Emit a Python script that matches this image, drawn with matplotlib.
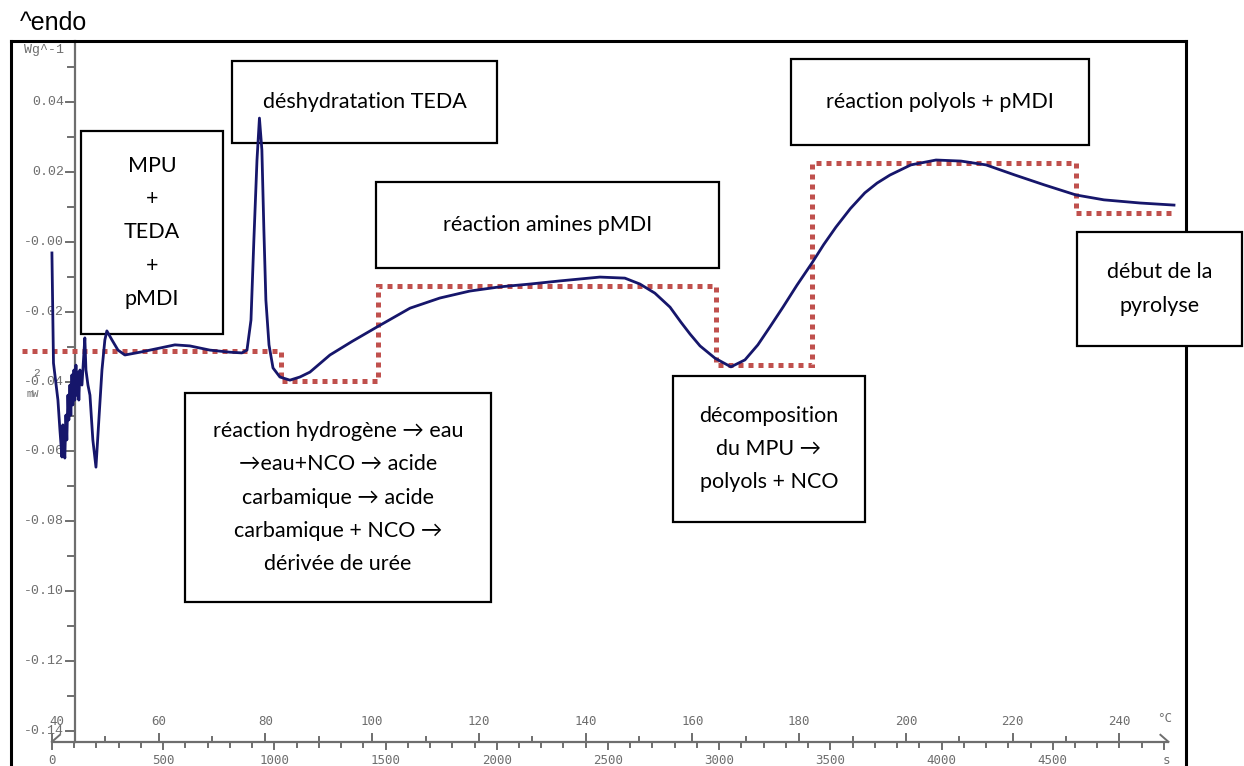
import matplotlib
matplotlib.use("Agg")
import matplotlib.pyplot as plt
from matplotlib.patches import Rectangle
import numpy as np

# ---------------- data ----------------
time_s = [0, 7, 27, 36, 45, 49, 54, 58, 63, 67, 72, 76, 81, 85, 90, 94, 99, 103, 108, 112,
          117, 121, 126, 135, 144, 148, 153, 162, 171, 184, 198, 211, 225, 238, 247, 270,
          297, 328, 396, 486, 553, 620, 710, 800, 854, 877, 895, 908, 922, 933, 944, 953,
          962, 976, 994, 1025, 1070, 1115, 1160, 1250, 1350, 1461, 1610, 1744, 1879, 2014,
          2149, 2284, 2464, 2576, 2644, 2711, 2779, 2828, 2869, 2914, 2981, 3053, 3116,
          3174, 3228, 3287, 3350, 3417, 3470, 3525, 3590, 3655, 3710, 3768, 3862, 3975,
          4087, 4200, 4330, 4461, 4604, 4730, 4892, 5045]
heat_flow = [-0.0032, -0.0347, -0.0453, -0.0539, -0.0616, -0.0524, -0.0582, -0.0619, -0.0496,
             -0.0567, -0.0439, -0.051, -0.041, -0.0496, -0.0381, -0.0467, -0.0367, -0.0453,
             -0.0353, -0.0439, -0.0373, -0.0453, -0.0367, -0.041, -0.0316, -0.0275, -0.0367,
             -0.041, -0.0439, -0.0567, -0.0645, -0.051, -0.0367, -0.0281, -0.0255, -0.0281,
             -0.031, -0.0324, -0.0316, -0.0304, -0.0295, -0.0298, -0.031, -0.0316, -0.0318,
             -0.031, -0.0224, 0.0005, 0.0234, 0.0354, 0.0263, 0.0034, -0.0167, -0.0295,
             -0.0361, -0.0387, -0.0396, -0.0387, -0.0373, -0.0324, -0.0285, -0.0244, -0.019,
             -0.0161, -0.0141, -0.0129, -0.0121, -0.0112, -0.0101, -0.0104, -0.0121, -0.0147,
             -0.0187, -0.0230, -0.0264, -0.0298, -0.0333, -0.0358, -0.0338, -0.0295, -0.0244,
             -0.0187, -0.0124, -0.0061, -0.0008, 0.0042, 0.0095, 0.0140, 0.0168, 0.0191,
             0.0220, 0.0234, 0.0231, 0.0220, 0.0191, 0.0163, 0.0134, 0.0120, 0.0111, 0.0105]

# stage outline (red dotted steps)
step_edges = [-135, 1030, 1466, 2985, 3417, 4604, 5049]
step_levels = [-0.0313, -0.0398, -0.0127, -0.0353, 0.0225, 0.0082]

y_ticks = [0.04, 0.02, 0.0, -0.02, -0.04, -0.06, -0.08, -0.10, -0.12, -0.14]
y_tick_labels = ["0.04", "0.02", "-0.00", "-0.02", "-0.04", "-0.06", "-0.08", "-0.10", "-0.12", "-0.14"]
time_ticks = [0, 500, 1000, 1500, 2000, 2500, 3000, 3500, 4000, 4500]
temp_ticks = [40, 60, 80, 100, 120, 140, 160, 180, 200, 220, 240]
sec_per_degree = 24  # heating 2.5 K/min

boxes = [
    # (x0, y0, x1, y1) in figure pixels (top-left origin), text
    ((81, 131, 223, 334), "MPU\n+\nTEDA\n+\npMDI"),
    ((232, 61, 497, 143), "déshydratation TEDA"),
    ((376, 182, 719, 268), "réaction amines pMDI"),
    ((791, 59, 1089, 145), "réaction polyols + pMDI"),
    ((1077, 232, 1242, 346), "début de la\npyrolyse"),
    ((185, 393, 491, 602), "réaction hydrogène \u2192 eau\n\u2192eau+NCO \u2192 acide\ncarbamique \u2192 acide\ncarbamique + NCO \u2192\ndérivée de urée"),
    ((673, 376, 865, 522), "décomposition\ndu MPU \u2192\npolyols + NCO"),
]

# ---------------- figure ----------------
W, H = 1244, 766
fig = plt.figure(figsize=(W / 100, H / 100), dpi=100)
fig.patch.set_facecolor("white")
ax = fig.add_axes([11 / W, (H - 775) / H, 1175 / W, 734 / H])
ax.set_xlim(-184, 5099)
ax.set_ylim(-0.1526, 0.05746)
ax.set_xticks([])
ax.set_yticks([])
for s in ax.spines.values():
    s.set_color("black")
    s.set_linewidth(2.2)

px_t = 5283 / 1175.0      # seconds per pixel
px_v = 0.21006 / 734.0    # W/g per pixel

gray = "#6e6e6e"
mono = "Liberation Mono"

# inner y axis
t_yax = 103
v_xax = -0.1431
ax.plot([t_yax, t_yax], [v_xax, 0.0575], color=gray, lw=1.6, zorder=2, clip_on=False)
for v in np.arange(-0.14, 0.0551, 0.01):
    major = abs(round(v * 100) % 2) == 0
    L = 9 if major else 7
    ax.plot([t_yax - L * px_t, t_yax], [v, v], color=gray, lw=1.4, zorder=2)
for v, lab in zip(y_ticks, y_tick_labels):
    ax.text(t_yax - 11 * px_t, v, lab, ha="right", va="center", family=mono,
            fontsize=9.5, color=gray)
ax.text(t_yax - 11 * px_t, 0.0549, "Wg^-1", ha="right", va="center", family=mono,
        fontsize=9.5, color=gray)
ax.text(-67, -0.0375, "2", ha="center", va="center", family=mono, fontsize=8, color=gray)
ax.text(-85, -0.0435, "mW", ha="center", va="center", family=mono, fontsize=7.5, color=gray)

# bottom axis
t_end = 5020
ax.plot([0, t_end], [v_xax, v_xax], color=gray, lw=1.6, zorder=2)
ax.plot([0, 8 * px_t], [v_xax, v_xax + 7 * px_v], color=gray, lw=1.4)
ax.plot([t_end - 8 * px_t, t_end], [v_xax + 7 * px_v, v_xax], color=gray, lw=1.4)
for t in range(0, 5001, 100):
    L = 7 if t % 500 == 0 else 5
    ax.plot([t, t], [v_xax, v_xax - L * px_v], color=gray, lw=1.4)
for T in range(40, 241, 10):
    t = (T - 40) * sec_per_degree
    L = 8 if T % 20 == 0 else 5
    ax.plot([t, t], [v_xax, v_xax + L * px_v], color=gray, lw=1.4)
for t in time_ticks:
    ax.text(t, v_xax - 19 * px_v, str(t), ha="center", va="center", family="DejaVu Sans Mono",
            fontsize=9, color=gray)
ax.text(5013, v_xax - 19 * px_v, "s", ha="center", va="center", family="DejaVu Sans Mono",
        fontsize=9, color=gray)
for T in temp_ticks:
    t = (T - 40) * sec_per_degree
    off = 5 * px_t if T == 40 else 0
    ax.text(t + off, v_xax + 20 * px_v, str(T), ha="center", va="center", family="DejaVu Sans Mono",
            fontsize=9, color=gray)
ax.text(5005, v_xax + 23 * px_v, "°C", ha="center", va="center", family="DejaVu Sans Mono",
        fontsize=9, color=gray)

# red dotted stage outline
ax.stairs(step_levels, step_edges, baseline=None, color="#c0504d", lw=3.6,
          linestyle=(0, (1, 1)), zorder=3.5, clip_on=False)

# DSC curve
ax.plot(time_s, heat_flow, color="#16166b", lw=2.0, zorder=5, solid_joinstyle="round")

# annotation boxes
for (x0, y0, x1, y1), txt in boxes:
    rect = Rectangle((x0 / W, 1 - y1 / H), (x1 - x0) / W, (y1 - y0) / H,
                     transform=fig.transFigure, facecolor="white", edgecolor="black",
                     lw=1.6, zorder=3, clip_on=False)
    ax.add_patch(rect)
    ax.text((x0 + x1) / 2 / W, 1 - (y0 + y1) / 2 / H, txt, transform=fig.transFigure,
            ha="center", va="center", multialignment="center",
            family=["Lato", "DejaVu Sans"], fontsize=15.5, linespacing=1.82,
            color="black", zorder=4, clip_on=False)

fig.text(20 / W, 1 - 23 / H, "^endo", family="Liberation Sans", fontsize=18,
         ha="left", va="center", color="black")

fig.savefig("out.png", dpi=100)
